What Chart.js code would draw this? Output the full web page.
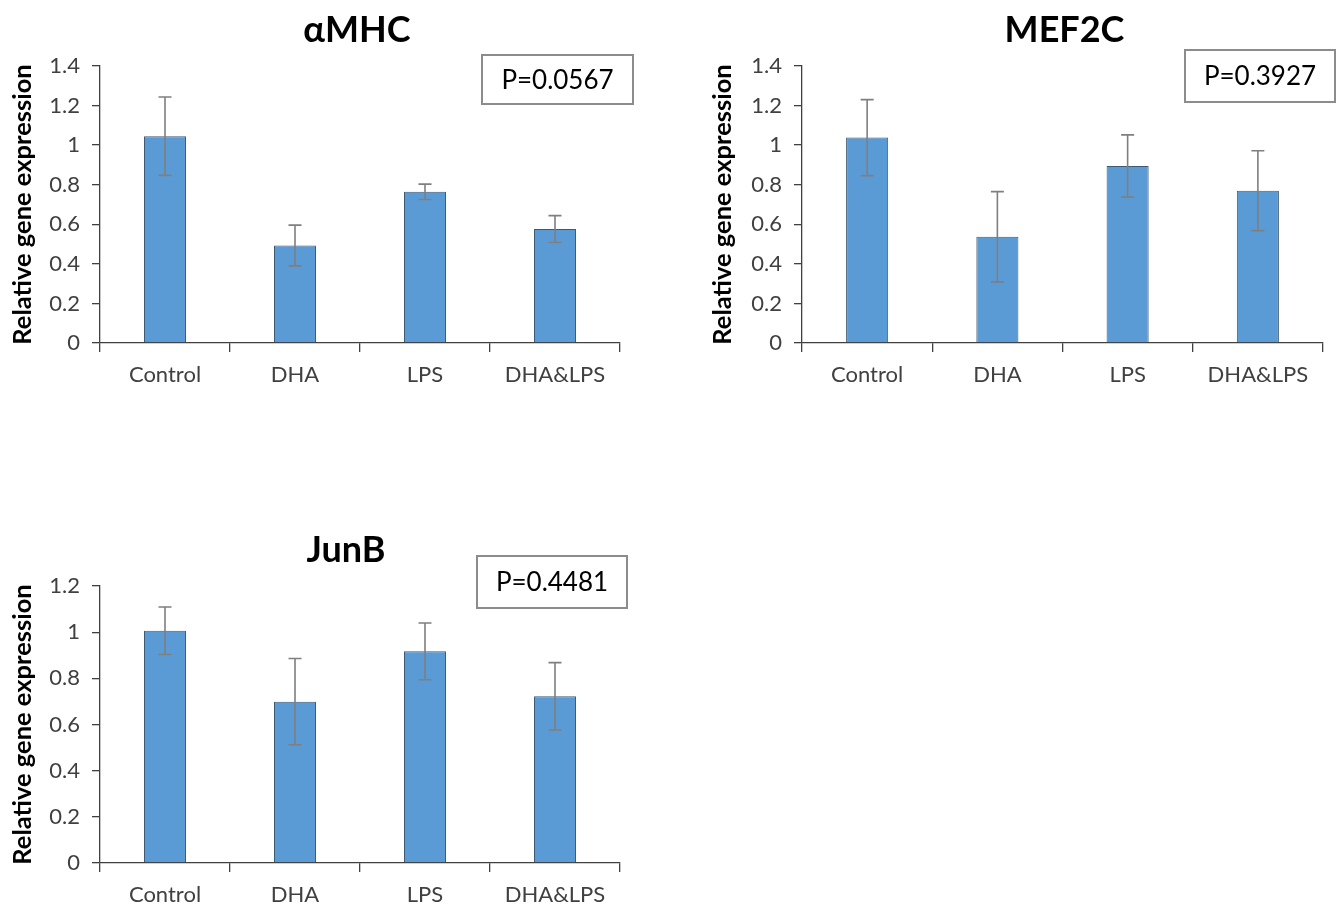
<!DOCTYPE html>
<html>
<head>
<meta charset="utf-8">
<script src="https://cdn.jsdelivr.net/npm/chart.js@4.4.1/dist/chart.umd.min.js"></script>
<style>
  body { margin: 0; background: #fff; width: 1336px; height: 906px; position: relative; overflow: hidden; }
  .box { position: absolute; }
</style>
</head>
<body>
<div class="box" style="left:0;top:0;width:660px;height:440px"><canvas id="c1"></canvas></div>
<div class="box" style="left:700px;top:0;width:636px;height:440px"><canvas id="c2"></canvas></div>
<div class="box" style="left:0;top:520px;width:660px;height:386px"><canvas id="c3"></canvas></div>
<script>
// groups
const categories = ["Control", "DHA", "LPS", "DHA&LPS"];

// αMHC
const mhcValues = [1.045, 0.493, 0.764, 0.576];
const mhcErrors = [0.198, 0.103, 0.039, 0.068];
// MEF2C
const mefValues = [1.038, 0.537, 0.895, 0.770];
const mefErrors = [0.192, 0.228, 0.157, 0.202];
// JunB
const junValues = [1.006, 0.699, 0.917, 0.722];
const junErrors = [0.103, 0.187, 0.123, 0.146];

const ticks14 = ["0", "0.2", "0.4", "0.6", "0.8", "1", "1.2", "1.4"];
const ticks12 = ["0", "0.2", "0.4", "0.6", "0.8", "1", "1.2"];

const FONT = 'Lato, "Open Sans", "DejaVu Sans", sans-serif';

// error bars + title + p-value box
const extras = {
  id: "extras",
  afterDatasetsDraw(chart, args, opts) {
    const ctx = chart.ctx;
    const y = chart.scales.y;
    const meta = chart.getDatasetMeta(0);
    const errs = opts.errors;
    const vals = chart.data.datasets[0].data;
    ctx.save();
    ctx.strokeStyle = "#7f7f7f";
    ctx.lineWidth = 1.6;
    meta.data.forEach((bar, i) => {
      const top = y.getPixelForValue(vals[i] + errs[i]);
      const bot = y.getPixelForValue(vals[i] - errs[i]);
      ctx.beginPath();
      ctx.moveTo(bar.x, top); ctx.lineTo(bar.x, bot);
      ctx.moveTo(bar.x - 6.5, top); ctx.lineTo(bar.x + 6.5, top);
      ctx.moveTo(bar.x - 6.5, bot); ctx.lineTo(bar.x + 6.5, bot);
      ctx.stroke();
    });
    ctx.restore();
  },
  afterDraw(chart, args, opts) {
    const ctx = chart.ctx;
    const a = chart.chartArea;
    ctx.save();
    ctx.fillStyle = "#000";
    ctx.font = "bold 36px " + FONT;
    ctx.textAlign = "center";
    ctx.textBaseline = "middle";
    ctx.fillText(opts.title, (a.left + a.right) / 2 + opts.titleDx, a.top - 36);

    const b = opts.box;
    const bx = a.right + b.dx, by = a.top + b.dy;
    ctx.fillStyle = "#fff";
    ctx.fillRect(bx, by, b.w, b.h);
    ctx.strokeStyle = "#8c8c8c";
    ctx.lineWidth = 2;
    ctx.strokeRect(bx, by, b.w, b.h);
    ctx.fillStyle = "#000";
    ctx.font = "26px " + FONT;
    ctx.fillText(opts.p, bx + b.w / 2, by + b.h / 2 + 1);
    ctx.restore();
  }
};

function makeChart(id, title, titleDx, pText, values, errors, yMax, tickLabels, axisW, padRight, xAxisH, box) {
  return new Chart(document.getElementById(id), {
    type: "bar",
    data: {
      labels: categories,
      datasets: [{
        data: values,
        backgroundColor: "#5b9bd5",
        borderColor: "#3d5a75",
        borderWidth: 1,
        categoryPercentage: 1,
        barPercentage: 0.323
      }]
    },
    options: {
      responsive: true,
      maintainAspectRatio: false,
      animation: false,
      layout: { padding: { top: 66, right: padRight, left: 0, bottom: 0 } },
      plugins: {
        legend: { display: false },
        tooltip: { enabled: false },
        extras: { title: title, titleDx: titleDx, p: pText, errors: errors, box: box }
      },
      scales: {
        x: {
          offset: true,
          grid: { offset: true, drawOnChartArea: false, drawTicks: true, tickLength: 9, color: "#404040", lineWidth: 1.3 },
          border: { display: true, color: "#404040", width: 1.3 },
          ticks: { color: "#404040", font: { family: FONT, size: 22 }, padding: 10, maxRotation: 0 },
          afterFit(s) { s.height = xAxisH; }
        },
        y: {
          min: 0,
          max: yMax,
          grid: { drawOnChartArea: false, drawTicks: true, tickLength: 8, color: "#404040", lineWidth: 1.3 },
          border: { display: true, color: "#404040", width: 1.3 },
          ticks: {
            stepSize: 0.2,
            color: "#404040",
            font: { family: FONT, size: 22 },
            padding: 12,
            callback: (v, i) => tickLabels[i]
          },
          title: {
            display: true,
            text: "Relative gene expression",
            color: "#000",
            font: { family: FONT, size: 25.5, weight: "bold" },
            padding: { top: 7, bottom: 0 }
          },
          afterFit(s) { s.width = axisW; }
        }
      }
    },
    plugins: [extras]
  });
}

makeChart("c1", "αMHC", -3, "P=0.0567", mhcValues, mhcErrors, 1.4, ticks14, 100, 40, 97,
  { dx: -138, dy: -11, w: 151, h: 49 });
makeChart("c2", "MEF2C", 2, "P=0.3927", mefValues, mefErrors, 1.4, ticks14, 102, 13, 97,
  { dx: -138, dy: -16, w: 150, h: 52 });
makeChart("c3", "JunB", -14, "P=0.4481", junValues, junErrors, 1.2, ticks12, 100, 40, 43,
  { dx: -143, dy: -30, w: 150, h: 52 });
</script>
</body>
</html>
